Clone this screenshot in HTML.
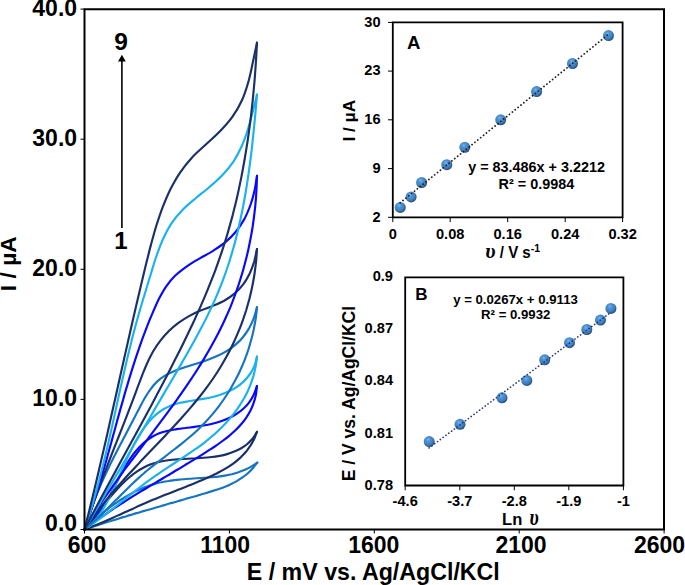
<!DOCTYPE html>
<html lang="en"><head><meta charset="utf-8"><title>Cyclic voltammograms</title>
<style>
html,body{margin:0;padding:0;background:#fff;}
body{width:685px;height:585px;overflow:hidden;}
svg{display:block;}
text{font-family:"Liberation Sans",Arial,Helvetica,sans-serif;font-weight:bold;fill:#000;}
.ser{font-family:"Liberation Serif","DejaVu Serif",serif;font-style:italic;font-weight:bold;}
.sern{font-weight:normal;}
</style></head><body>
<svg width="685" height="585" viewBox="0 0 685 585">
<defs>
<radialGradient id="sph" cx="42%" cy="40%" r="64%" fx="40%" fy="30%">
<stop offset="0" stop-color="#74b6ee"/><stop offset="0.3" stop-color="#5092d2"/><stop offset="0.65" stop-color="#4180bf"/><stop offset="0.85" stop-color="#2f6096"/><stop offset="1" stop-color="#1d3b5d"/>
</radialGradient>
</defs>
<rect width="685" height="585" fill="#fff"/>
<g fill="none" stroke-width="2.15" stroke-linejoin="round" stroke-linecap="round">
<path stroke="#1674c0" d="M84.5 529.5C85.4 528.7 87.9 526.2 89.7 524.6C91.4 523.0 93.2 521.3 94.9 519.8C96.7 518.2 98.5 516.6 100.3 515.1C102.2 513.5 104.0 512.0 105.9 510.5C107.7 509.0 109.6 507.6 111.5 506.2C113.4 504.8 115.4 503.4 117.3 502.1C119.2 500.7 121.2 499.5 123.2 498.2C125.2 497.0 127.2 495.8 129.3 494.7C131.3 493.5 133.4 492.4 135.4 491.4C137.5 490.4 139.6 489.4 141.8 488.5C143.9 487.6 146.0 486.8 148.2 486.0C150.4 485.2 152.6 484.5 154.8 483.9C157.0 483.3 159.3 482.7 161.6 482.3C163.8 481.8 166.1 481.3 168.4 481.0C170.7 480.6 173.1 480.3 175.4 480.0C177.7 479.7 180.1 479.5 182.4 479.2C184.8 479.0 187.1 478.9 189.5 478.7C191.9 478.5 194.3 478.4 196.6 478.2C199.0 478.1 201.4 478.0 203.8 477.8C206.2 477.6 208.5 477.5 210.9 477.3C213.2 477.1 215.6 476.8 217.9 476.6C220.3 476.3 222.6 476.0 224.9 475.6C227.2 475.2 229.5 474.7 231.7 474.2C234.0 473.6 236.2 473.0 238.4 472.3C240.6 471.5 242.8 470.7 244.9 469.8C247.1 468.8 249.2 467.8 251.2 466.6C253.3 465.4 256.3 463.3 257.3 462.6"/>
<path stroke="#1674c0" d="M257.3 462.6C256.6 463.5 254.4 466.5 252.8 468.3C251.3 470.1 249.6 471.7 247.9 473.2C246.2 474.7 244.4 476.1 242.5 477.4C240.6 478.7 238.7 479.9 236.8 481.1C234.8 482.2 232.8 483.2 230.7 484.2C228.7 485.2 226.6 486.1 224.4 486.9C222.3 487.8 220.1 488.5 218.0 489.3C215.8 490.0 213.6 490.7 211.3 491.4C209.1 492.1 206.9 492.8 204.6 493.5C202.4 494.1 200.2 494.8 197.9 495.4C195.7 496.1 193.4 496.7 191.2 497.3C189.0 498.0 186.7 498.6 184.5 499.3C182.2 499.9 180.0 500.6 177.8 501.2C175.5 501.9 173.3 502.5 171.0 503.1C168.8 503.8 166.6 504.4 164.3 505.1C162.1 505.7 159.9 506.4 157.6 507.0C155.4 507.7 153.2 508.3 150.9 509.0C148.7 509.6 146.5 510.3 144.3 510.9C142.0 511.6 139.8 512.2 137.6 512.9C135.3 513.5 133.1 514.2 130.9 514.9C128.7 515.5 126.5 516.2 124.2 516.9C122.0 517.5 119.8 518.2 117.6 518.9C115.4 519.6 113.2 520.3 110.9 521.0C108.7 521.6 106.5 522.3 104.3 523.0C102.1 523.7 99.9 524.4 97.7 525.2C95.5 525.9 93.3 526.6 91.1 527.3C88.9 528.0 85.6 529.1 84.5 529.5"/>
<path stroke="#1a3068" d="M84.5 529.5C85.2 528.6 87.5 525.9 89.0 524.0C90.5 522.1 92.0 520.2 93.6 518.2C95.1 516.2 96.7 514.1 98.3 512.0C99.9 510.0 101.5 507.9 103.2 505.8C104.9 503.7 106.5 501.5 108.3 499.4C110.0 497.3 111.7 495.3 113.5 493.2C115.3 491.2 117.1 489.2 119.0 487.2C120.8 485.3 122.7 483.4 124.7 481.5C126.6 479.7 128.6 478.0 130.6 476.3C132.6 474.7 134.7 473.1 136.8 471.7C139.0 470.2 141.1 468.9 143.4 467.7C145.6 466.6 147.9 465.5 150.2 464.6C152.5 463.7 154.9 463.0 157.4 462.3C159.8 461.7 162.3 461.2 164.8 460.8C167.3 460.3 169.8 460.0 172.4 459.7C175.0 459.5 177.6 459.3 180.2 459.1C182.8 458.9 185.5 458.8 188.1 458.7C190.8 458.5 193.4 458.4 196.1 458.3C198.7 458.1 201.4 458.0 204.0 457.8C206.7 457.6 209.3 457.3 211.9 457.0C214.5 456.7 217.1 456.3 219.6 455.9C222.1 455.4 224.7 454.8 227.1 454.1C229.6 453.4 232.0 452.6 234.3 451.6C236.7 450.7 239.0 449.6 241.2 448.3C243.3 447.0 245.4 445.6 247.3 444.0C249.3 442.3 251.1 440.5 252.7 438.5C254.3 436.5 256.3 432.9 257.0 431.8"/>
<path stroke="#1a3068" d="M257.0 431.8C256.5 433.0 255.2 436.9 254.1 439.2C252.9 441.5 251.7 443.7 250.3 445.8C249.0 447.9 247.5 449.9 246.0 451.8C244.4 453.6 242.7 455.4 241.0 457.1C239.2 458.7 237.4 460.3 235.5 461.8C233.6 463.3 231.6 464.7 229.5 466.1C227.5 467.4 225.4 468.7 223.2 469.9C221.0 471.2 218.8 472.3 216.6 473.5C214.3 474.6 212.1 475.7 209.8 476.7C207.5 477.8 205.1 478.8 202.8 479.8C200.5 480.8 198.1 481.8 195.8 482.7C193.4 483.7 191.1 484.7 188.7 485.6C186.4 486.5 184.0 487.5 181.6 488.4C179.3 489.3 176.9 490.3 174.6 491.2C172.2 492.1 169.9 493.0 167.5 494.0C165.2 494.9 162.8 495.8 160.5 496.8C158.1 497.7 155.8 498.7 153.5 499.6C151.2 500.6 148.9 501.6 146.6 502.6C144.3 503.6 142.0 504.6 139.7 505.6C137.4 506.6 135.1 507.7 132.9 508.7C130.6 509.7 128.3 510.8 126.0 511.8C123.8 512.9 121.5 513.9 119.2 514.9C117.0 516.0 114.7 517.0 112.4 518.0C110.1 519.1 107.9 520.1 105.6 521.1C103.3 522.1 101.0 523.1 98.6 524.0C96.3 525.0 94.0 525.9 91.6 526.8C89.3 527.7 85.7 529.1 84.5 529.5"/>
<path stroke="#0808ff" d="M84.5 529.5C85.5 528.6 88.8 525.9 90.7 523.9C92.7 521.8 94.6 519.6 96.3 517.3C98.1 515.0 99.8 512.6 101.4 510.1C103.1 507.6 104.6 505.0 106.1 502.3C107.6 499.7 109.1 496.9 110.6 494.2C112.0 491.5 113.4 488.7 114.9 485.9C116.3 483.1 117.7 480.3 119.2 477.5C120.6 474.8 122.1 472.0 123.6 469.3C125.1 466.7 126.7 464.0 128.3 461.5C129.9 459.0 131.6 456.5 133.4 454.1C135.2 451.8 137.0 449.5 139.0 447.4C141.0 445.4 143.1 443.4 145.3 441.6C147.5 439.8 149.8 438.2 152.2 436.8C154.6 435.4 157.2 434.2 159.8 433.1C162.4 432.1 165.2 431.4 168.0 430.7C170.8 430.0 173.7 429.6 176.6 429.1C179.5 428.7 182.5 428.3 185.4 428.0C188.4 427.6 191.5 427.3 194.5 426.9C197.5 426.5 200.5 426.0 203.5 425.5C206.5 425.0 209.5 424.4 212.4 423.7C215.3 423.0 218.2 422.2 221.0 421.2C223.8 420.3 226.5 419.2 229.1 418.0C231.7 416.8 234.2 415.5 236.6 413.9C238.9 412.4 241.2 410.7 243.3 408.8C245.3 407.0 247.3 404.9 249.0 402.6C250.7 400.3 252.3 397.8 253.6 395.0C255.0 392.2 256.4 387.5 257.0 386.0"/>
<path stroke="#0808ff" d="M257.0 386.0C256.8 387.5 256.4 392.3 255.8 395.2C255.2 398.1 254.4 400.9 253.4 403.6C252.5 406.3 251.3 408.9 250.1 411.3C248.8 413.8 247.3 416.1 245.8 418.3C244.2 420.6 242.5 422.7 240.7 424.8C238.9 426.9 236.9 428.9 234.9 430.8C232.9 432.7 230.8 434.5 228.6 436.3C226.4 438.1 224.1 439.8 221.8 441.5C219.5 443.2 217.2 444.9 214.8 446.5C212.4 448.1 209.9 449.6 207.5 451.2C205.1 452.8 202.6 454.3 200.2 455.8C197.7 457.3 195.3 458.9 192.8 460.4C190.4 461.9 187.9 463.4 185.4 464.8C183.0 466.3 180.5 467.8 178.1 469.3C175.6 470.7 173.2 472.2 170.7 473.7C168.2 475.1 165.8 476.6 163.3 478.0C160.9 479.5 158.4 480.9 156.0 482.4C153.5 483.9 151.1 485.3 148.6 486.8C146.2 488.3 143.7 489.7 141.3 491.2C138.9 492.7 136.5 494.2 134.0 495.7C131.6 497.2 129.2 498.7 126.8 500.2C124.4 501.7 122.0 503.3 119.6 504.8C117.2 506.4 114.8 507.9 112.4 509.5C110.1 511.1 107.7 512.7 105.4 514.3C103.0 515.9 100.7 517.6 98.3 519.2C96.0 520.9 93.7 522.6 91.4 524.3C89.1 526.0 85.6 528.6 84.5 529.5"/>
<path stroke="#1ab2ee" d="M84.5 529.5C85.6 528.7 88.8 526.5 90.8 524.6C92.8 522.8 94.7 520.7 96.5 518.5C98.3 516.3 100.0 513.8 101.7 511.3C103.4 508.7 104.9 506.0 106.5 503.2C108.1 500.4 109.5 497.4 111.0 494.4C112.5 491.4 113.9 488.2 115.3 485.1C116.8 481.9 118.2 478.7 119.6 475.5C121.0 472.2 122.4 468.9 123.8 465.7C125.3 462.4 126.7 459.2 128.2 456.0C129.7 452.8 131.3 449.6 132.9 446.5C134.4 443.4 136.1 440.4 137.8 437.5C139.5 434.6 141.3 431.8 143.2 429.1C145.1 426.4 147.0 423.9 149.1 421.5C151.2 419.1 153.4 416.9 155.7 414.9C158.0 412.9 160.4 411.1 163.0 409.5C165.6 407.9 168.3 406.6 171.2 405.5C174.1 404.4 177.1 403.5 180.2 402.8C183.3 402.1 186.6 401.6 189.8 401.0C193.1 400.5 196.4 400.0 199.7 399.5C202.9 398.9 206.2 398.4 209.5 397.7C212.7 397.0 215.9 396.2 218.9 395.2C222.0 394.2 225.0 393.1 227.9 391.8C230.8 390.5 233.6 389.1 236.2 387.4C238.8 385.7 241.3 383.7 243.5 381.6C245.8 379.4 247.9 377.0 249.7 374.5C251.5 371.9 253.1 369.1 254.3 366.1C255.5 363.1 256.6 358.1 257.0 356.5"/>
<path stroke="#1ab2ee" d="M257.0 356.5C256.8 358.1 256.3 363.0 255.7 366.1C255.1 369.3 254.4 372.4 253.6 375.4C252.7 378.4 251.7 381.4 250.6 384.3C249.5 387.1 248.3 390.0 247.0 392.7C245.6 395.5 244.2 398.2 242.6 400.8C241.0 403.5 239.4 406.0 237.6 408.5C235.9 411.1 234.0 413.5 232.1 415.9C230.1 418.3 228.1 420.6 226.0 422.9C223.9 425.2 221.7 427.4 219.5 429.5C217.3 431.7 215.0 433.8 212.6 435.8C210.3 437.9 207.9 439.8 205.4 441.8C203.0 443.7 200.5 445.6 198.0 447.4C195.4 449.2 192.9 451.0 190.3 452.7C187.7 454.5 185.1 456.2 182.5 457.9C179.9 459.6 177.2 461.3 174.6 463.0C172.0 464.7 169.4 466.4 166.8 468.1C164.2 469.8 161.6 471.5 159.0 473.3C156.4 475.1 153.9 476.9 151.4 478.7C148.9 480.5 146.4 482.4 143.9 484.2C141.4 486.1 139.0 488.0 136.5 489.9C134.1 491.8 131.6 493.8 129.2 495.7C126.8 497.6 124.3 499.6 121.9 501.5C119.5 503.5 117.1 505.4 114.6 507.3C112.2 509.2 109.7 511.2 107.3 513.1C104.8 515.0 102.3 516.8 99.8 518.7C97.3 520.6 94.8 522.4 92.2 524.2C89.7 526.0 85.8 528.6 84.5 529.5"/>
<path stroke="#1674c0" d="M84.5 529.5C85.1 527.6 86.7 521.9 87.9 518.3C89.1 514.6 90.4 511.0 91.7 507.5C92.9 503.9 94.3 500.5 95.6 497.1C97.0 493.6 98.4 490.3 99.8 487.0C101.2 483.6 102.7 480.3 104.2 477.1C105.7 473.8 107.2 470.6 108.8 467.4C110.3 464.2 111.9 461.0 113.5 457.8C115.1 454.7 116.8 451.5 118.4 448.3C120.1 445.1 121.7 441.9 123.4 438.7C125.1 435.5 126.8 432.3 128.5 429.1C130.2 425.9 131.9 422.6 133.6 419.3C135.3 416.0 137.0 412.6 138.8 409.3C140.5 405.9 142.2 402.5 144.1 399.2C146.0 396.0 147.9 392.7 150.1 389.8C152.2 386.8 154.5 384.0 157.1 381.6C159.6 379.2 162.4 377.2 165.4 375.4C168.4 373.6 171.7 372.1 175.1 370.7C178.4 369.4 181.9 368.3 185.4 367.1C188.9 365.9 192.6 364.9 196.1 363.8C199.7 362.7 203.3 361.5 206.7 360.2C210.2 359.0 213.7 357.6 217.0 356.1C220.3 354.6 223.5 353.0 226.6 351.1C229.6 349.2 232.6 347.2 235.3 344.9C238.0 342.6 240.6 340.0 242.9 337.2C245.2 334.4 247.3 331.3 249.2 328.1C251.0 324.8 252.6 321.3 253.9 317.9C255.2 314.4 256.5 309.0 257.0 307.2"/>
<path stroke="#1674c0" d="M257.0 307.2C256.8 309.0 256.3 314.4 255.8 318.0C255.2 321.6 254.6 325.1 253.9 328.6C253.2 332.2 252.4 335.7 251.4 339.1C250.5 342.6 249.5 346.1 248.4 349.5C247.3 352.9 246.1 356.3 244.8 359.6C243.5 362.9 242.1 366.2 240.6 369.5C239.2 372.8 237.6 376.0 235.9 379.1C234.3 382.3 232.5 385.4 230.7 388.5C228.9 391.6 227.0 394.6 225.0 397.5C223.0 400.5 220.9 403.4 218.8 406.3C216.6 409.1 214.4 411.9 212.1 414.6C209.8 417.3 207.4 420.0 205.0 422.6C202.5 425.2 200.0 427.7 197.4 430.2C194.8 432.6 192.1 435.0 189.4 437.3C186.7 439.6 183.9 441.9 181.1 444.1C178.3 446.4 175.5 448.5 172.6 450.7C169.8 452.9 166.9 455.1 164.1 457.3C161.2 459.4 158.3 461.6 155.5 463.8C152.7 466.0 149.9 468.3 147.1 470.5C144.4 472.8 141.7 475.2 139.0 477.6C136.3 480.0 133.7 482.4 131.1 484.9C128.6 487.4 126.0 489.9 123.5 492.4C120.9 495.0 118.4 497.5 115.9 500.1C113.4 502.6 110.9 505.2 108.3 507.7C105.8 510.2 103.2 512.8 100.6 515.2C98.0 517.7 95.4 520.2 92.7 522.5C90.0 524.9 85.9 528.3 84.5 529.5"/>
<path stroke="#1a3068" d="M84.5 529.5C85.2 527.4 87.2 521.1 88.6 516.9C90.0 512.8 91.5 508.7 92.9 504.6C94.3 500.5 95.8 496.5 97.2 492.5C98.7 488.5 100.1 484.6 101.6 480.6C103.1 476.7 104.6 472.8 106.1 468.9C107.6 465.0 109.1 461.1 110.6 457.2C112.1 453.4 113.6 449.5 115.1 445.6C116.6 441.8 118.2 437.9 119.7 434.0C121.2 430.1 122.7 426.3 124.3 422.3C125.8 418.4 127.3 414.5 128.8 410.6C130.4 406.6 131.9 402.6 133.4 398.6C134.9 394.6 136.4 390.5 137.9 386.5C139.5 382.4 141.0 378.3 142.6 374.2C144.2 370.2 145.8 366.1 147.6 362.2C149.5 358.3 151.4 354.4 153.5 350.8C155.7 347.1 158.0 343.6 160.6 340.3C163.2 337.0 166.0 333.9 168.9 331.0C171.9 328.1 175.1 325.4 178.4 322.9C181.8 320.5 185.3 318.2 189.0 316.1C192.7 314.1 196.6 312.3 200.5 310.6C204.4 308.9 208.6 307.6 212.6 305.9C216.5 304.3 220.5 302.7 224.2 300.7C227.8 298.6 231.3 296.3 234.5 293.6C237.6 291.0 240.5 288.0 243.0 284.7C245.6 281.4 247.7 277.6 249.6 273.8C251.4 269.9 252.9 265.7 254.2 261.6C255.4 257.4 256.5 251.1 257.0 249.0"/>
<path stroke="#1a3068" d="M257.0 249.0C256.8 251.1 256.5 257.4 256.1 261.5C255.6 265.7 255.1 269.9 254.5 274.0C253.9 278.1 253.1 282.2 252.3 286.3C251.5 290.4 250.5 294.5 249.5 298.5C248.4 302.5 247.3 306.5 246.1 310.5C244.8 314.5 243.5 318.4 242.1 322.3C240.7 326.2 239.1 330.1 237.5 333.9C235.9 337.7 234.2 341.5 232.4 345.2C230.6 349.0 228.7 352.6 226.7 356.3C224.7 359.9 222.7 363.5 220.5 367.0C218.4 370.6 216.1 374.1 213.8 377.5C211.5 380.9 209.1 384.3 206.6 387.6C204.1 391.0 201.6 394.2 199.0 397.5C196.4 400.7 193.7 403.9 191.0 407.1C188.3 410.3 185.6 413.4 182.8 416.5C180.1 419.6 177.2 422.7 174.4 425.8C171.6 428.9 168.7 431.9 165.9 434.9C163.0 438.0 160.1 441.0 157.3 444.0C154.4 447.0 151.5 450.1 148.6 453.1C145.8 456.1 142.9 459.1 140.0 462.1C137.2 465.2 134.3 468.2 131.5 471.3C128.7 474.3 125.8 477.4 123.1 480.5C120.3 483.6 117.5 486.7 114.8 489.8C112.1 493.0 109.4 496.2 106.8 499.4C104.2 502.6 101.6 505.8 99.0 509.1C96.5 512.4 94.0 515.8 91.6 519.2C89.2 522.6 85.7 527.8 84.5 529.5"/>
<path stroke="#0808ff" d="M84.5 529.5C85.3 527.1 87.9 520.1 89.5 515.3C91.1 510.5 92.7 505.8 94.2 501.0C95.8 496.2 97.2 491.4 98.7 486.6C100.1 481.8 101.5 477.0 102.9 472.1C104.3 467.3 105.7 462.5 107.1 457.6C108.4 452.8 109.7 447.9 111.1 443.1C112.4 438.2 113.7 433.4 115.1 428.5C116.4 423.6 117.7 418.8 119.1 413.9C120.4 409.1 121.8 404.2 123.2 399.4C124.5 394.5 125.9 389.7 127.4 384.9C128.8 380.1 130.3 375.2 131.8 370.4C133.3 365.6 134.8 360.8 136.4 356.1C138.0 351.3 139.6 346.5 141.3 341.8C143.0 337.0 144.8 332.3 146.6 327.6C148.4 322.9 150.3 318.2 152.3 313.6C154.3 308.9 156.3 304.2 158.5 299.7C160.8 295.3 163.1 290.8 165.9 286.8C168.7 282.8 171.8 279.0 175.3 275.6C178.8 272.2 182.8 269.2 186.9 266.3C191.0 263.4 195.4 261.0 199.8 258.4C204.2 255.8 208.8 253.5 213.1 250.8C217.3 248.0 221.6 245.3 225.4 242.1C229.2 238.9 232.7 235.5 235.8 231.7C239.0 227.9 241.7 223.7 244.2 219.4C246.6 215.0 248.6 210.2 250.3 205.5C252.0 200.7 253.4 195.6 254.5 190.7C255.6 185.7 256.6 178.3 257.0 175.8"/>
<path stroke="#0808ff" d="M257.0 175.8C256.9 178.3 256.7 185.8 256.4 190.8C256.2 195.8 255.8 200.8 255.3 205.7C254.8 210.7 254.2 215.6 253.5 220.5C252.9 225.5 252.1 230.4 251.2 235.3C250.3 240.1 249.3 245.0 248.3 249.8C247.2 254.7 246.0 259.5 244.7 264.2C243.5 269.0 242.1 273.8 240.6 278.5C239.2 283.2 237.6 287.8 235.9 292.5C234.3 297.1 232.5 301.7 230.7 306.3C228.8 310.8 226.8 315.4 224.8 319.8C222.8 324.3 220.6 328.7 218.4 333.1C216.1 337.5 213.8 341.8 211.4 346.1C209.0 350.4 206.5 354.7 204.0 358.9C201.4 363.2 198.8 367.3 196.1 371.5C193.4 375.7 190.7 379.8 187.9 383.9C185.1 388.0 182.3 392.1 179.4 396.2C176.5 400.2 173.6 404.3 170.6 408.3C167.7 412.3 164.7 416.4 161.7 420.4C158.8 424.4 155.7 428.4 152.7 432.3C149.7 436.3 146.7 440.3 143.7 444.3C140.7 448.3 137.7 452.3 134.7 456.3C131.7 460.2 128.7 464.2 125.7 468.2C122.8 472.2 119.8 476.2 116.9 480.3C114.0 484.3 111.2 488.3 108.4 492.4C105.5 496.4 102.8 500.5 100.0 504.6C97.3 508.7 94.7 512.8 92.1 517.0C89.5 521.1 85.8 527.4 84.5 529.5"/>
<path stroke="#1ab2ee" d="M84.5 529.5C85.4 526.7 88.2 518.3 90.0 512.6C91.7 507.0 93.4 501.3 95.0 495.6C96.6 489.9 98.2 484.2 99.6 478.5C101.1 472.8 102.6 467.0 104.0 461.3C105.4 455.5 106.7 449.8 108.1 444.0C109.4 438.3 110.7 432.5 112.0 426.7C113.3 420.9 114.5 415.2 115.8 409.4C117.1 403.6 118.3 397.8 119.6 392.1C120.9 386.3 122.2 380.5 123.5 374.8C124.8 369.0 126.1 363.2 127.5 357.5C128.9 351.8 130.3 346.0 131.7 340.3C133.2 334.6 134.6 328.9 136.2 323.2C137.8 317.5 139.4 311.9 141.0 306.2C142.7 300.6 144.5 295.0 146.2 289.3C147.9 283.6 149.6 277.9 151.4 272.2C153.1 266.5 154.8 260.6 156.8 255.0C158.8 249.4 160.8 243.8 163.3 238.5C165.7 233.2 168.4 228.0 171.6 223.2C174.9 218.4 178.6 214.0 182.7 209.8C186.7 205.6 191.4 201.9 196.0 198.0C200.5 194.2 205.4 190.6 209.8 186.7C214.3 182.8 218.8 179.0 222.7 174.7C226.7 170.5 230.4 166.1 233.6 161.3C236.8 156.4 239.5 151.2 241.9 145.8C244.3 140.4 246.2 134.7 248.0 129.0C249.8 123.3 251.3 117.3 252.8 111.6C254.3 105.9 256.3 97.4 257.0 94.6"/>
<path stroke="#1ab2ee" d="M257.0 94.6C256.7 97.5 256.0 106.2 255.5 112.1C255.0 117.9 254.4 123.7 253.8 129.6C253.2 135.4 252.6 141.3 252.0 147.1C251.3 153.0 250.6 158.8 249.8 164.6C249.0 170.5 248.2 176.3 247.3 182.1C246.4 187.9 245.5 193.7 244.4 199.5C243.4 205.3 242.3 211.0 241.0 216.8C239.8 222.5 238.5 228.2 237.1 233.9C235.7 239.5 234.2 245.2 232.6 250.8C231.0 256.4 229.3 262.0 227.4 267.5C225.6 273.0 223.6 278.5 221.5 283.9C219.4 289.3 217.2 294.7 214.8 300.1C212.4 305.4 209.9 310.7 207.4 315.9C204.8 321.2 202.1 326.4 199.3 331.6C196.6 336.8 193.8 341.9 190.9 347.1C188.0 352.2 185.1 357.3 182.1 362.4C179.2 367.5 176.2 372.6 173.2 377.7C170.3 382.8 167.3 387.8 164.3 392.9C161.4 398.0 158.4 403.0 155.4 408.1C152.5 413.2 149.5 418.2 146.6 423.3C143.6 428.3 140.7 433.4 137.7 438.4C134.8 443.5 131.9 448.5 128.9 453.6C126.0 458.7 123.0 463.7 120.1 468.8C117.1 473.8 114.2 478.9 111.2 483.9C108.3 489.0 105.3 494.0 102.4 499.1C99.4 504.2 96.4 509.2 93.4 514.3C90.5 519.4 86.0 527.0 84.5 529.5"/>
<path stroke="#1a3068" d="M84.5 529.5C85.3 526.3 87.7 516.8 89.3 510.5C90.8 504.1 92.4 497.8 93.9 491.5C95.4 485.1 96.9 478.8 98.4 472.5C99.9 466.1 101.4 459.8 102.8 453.5C104.3 447.2 105.7 440.9 107.2 434.5C108.6 428.2 110.0 421.9 111.4 415.6C112.9 409.2 114.3 402.9 115.7 396.6C117.1 390.3 118.5 384.0 119.9 377.6C121.3 371.3 122.7 365.0 124.1 358.7C125.6 352.4 127.0 346.0 128.4 339.7C129.8 333.4 131.3 327.0 132.7 320.7C134.2 314.4 135.6 308.0 137.1 301.7C138.6 295.4 140.1 289.0 141.6 282.7C143.1 276.3 144.6 270.0 146.2 263.6C147.8 257.3 149.3 250.9 151.0 244.6C152.7 238.3 154.4 231.9 156.3 225.7C158.3 219.5 160.3 213.3 162.6 207.3C165.0 201.3 167.5 195.3 170.3 189.5C173.2 183.8 176.3 178.1 179.9 172.8C183.5 167.4 187.5 162.4 191.9 157.7C196.2 152.9 201.3 148.8 206.1 144.3C210.8 139.9 215.8 135.6 220.2 131.0C224.7 126.3 229.0 121.5 232.7 116.3C236.4 111.1 239.6 105.5 242.2 99.7C244.9 93.8 246.8 87.4 248.6 81.0C250.4 74.7 251.6 68.0 253.0 61.6C254.4 55.2 256.3 45.9 257.0 42.7"/>
<path stroke="#1a3068" d="M257.0 42.7C256.8 45.9 256.3 55.6 255.9 62.0C255.5 68.5 255.0 74.9 254.5 81.3C253.9 87.8 253.3 94.2 252.7 100.7C252.0 107.1 251.3 113.5 250.5 119.9C249.7 126.4 248.8 132.8 247.9 139.2C246.9 145.6 245.9 152.0 244.8 158.3C243.7 164.7 242.6 171.0 241.3 177.4C240.0 183.7 238.7 190.0 237.3 196.3C235.8 202.6 234.3 208.8 232.7 215.1C231.0 221.3 229.3 227.5 227.5 233.7C225.6 239.9 223.7 246.0 221.7 252.1C219.6 258.2 217.5 264.3 215.3 270.3C213.0 276.3 210.6 282.3 208.2 288.3C205.8 294.3 203.3 300.2 200.7 306.1C198.1 312.0 195.4 317.9 192.7 323.8C189.9 329.6 187.1 335.4 184.3 341.2C181.5 347.1 178.6 352.8 175.6 358.6C172.7 364.4 169.8 370.1 166.8 375.9C163.8 381.6 160.8 387.4 157.8 393.1C154.8 398.8 151.7 404.5 148.7 410.2C145.6 415.9 142.5 421.6 139.5 427.2C136.4 432.9 133.3 438.6 130.2 444.3C127.1 449.9 124.0 455.6 120.9 461.3C117.9 466.9 114.8 472.6 111.7 478.3C108.6 484.0 105.6 489.6 102.5 495.3C99.5 501.0 96.4 506.7 93.4 512.4C90.4 518.1 86.0 526.6 84.5 529.5"/>
</g>
<g stroke="#000" fill="none">
<path stroke-width="2" d="M84.5 9.2H664.0V529.5H84.5Z"/>
<path stroke-width="1" d="M84.5 529.5h-4M84.5 399.4h-4M84.5 269.3h-4M84.5 139.2h-4M84.5 9.1h-4M84.5 529.5v4M229.4 529.5v4M374.3 529.5v4M519.2 529.5v4M664.1 529.5v4"/>
</g>
<g font-size="23" text-anchor="end">
<text x="77.1" y="531.2">0.0</text>
<text x="77.1" y="406.4">10.0</text>
<text x="77.1" y="276.3">20.0</text>
<text x="77.1" y="146.2">30.0</text>
<text x="77.1" y="16.1">40.0</text>
</g>
<g font-size="23" text-anchor="middle">
<text x="87.0" y="552.7">600</text>
<text x="225.2" y="552.7">1100</text>
<text x="373.8" y="552.7">1600</text>
<text x="521.0" y="552.7">2100</text>
<text x="659.5" y="552.7">2600</text>
</g>
<text font-size="23.2" text-anchor="middle" x="373.3" y="580">E / mV vs. Ag/AgCl/KCl</text>
<text font-size="22.8" text-anchor="middle" transform="translate(16.1 263.7) rotate(-90)">I / µA</text>
<text font-size="24.5" text-anchor="middle" x="121" y="50.2">9</text>
<text font-size="24" text-anchor="middle" x="121" y="249">1</text>
<path d="M121.9 228V60" stroke="#000" stroke-width="1.6" fill="none"/>
<path d="M121.9 54.8l3.9 6.6h-7.8z" fill="#000"/>
<g stroke="#000" fill="none">
<path stroke-width="1.8" d="M392.8 22.4H622.6V217.3H392.8Z"/>
<path stroke-width="1" d="M392.8 22.4h-4.8M392.8 217.3v4.8M392.8 71.1h-4.8M450.2 217.3v4.8M392.8 119.8h-4.8M507.7 217.3v4.8M392.8 168.6h-4.8M565.2 217.3v4.8M392.8 217.3h-4.8M622.6 217.3v4.8"/>
</g>
<g font-size="14.6" text-anchor="end">
<text x="380.6" y="26.6">30</text>
<text x="380.6" y="75.3">23</text>
<text x="380.6" y="124.0">16</text>
<text x="380.6" y="172.8">9</text>
<text x="380.6" y="221.5">2</text>
</g>
<g font-size="14.6" text-anchor="middle">
<text x="392.8" y="238.8">0</text>
<text x="450.2" y="238.8">0.08</text>
<text x="507.7" y="238.8">0.16</text>
<text x="565.2" y="238.8">0.24</text>
<text x="622.6" y="238.8">0.32</text>
</g>
<text font-size="18.6" x="407" y="49.3">A</text>
<text font-size="17.3" text-anchor="middle" transform="translate(355.2 120.7) rotate(-90)">I / µA</text>
<text font-size="15.8" x="485.3" y="258" textLength="54.8" lengthAdjust="spacingAndGlyphs"><tspan class="ser" font-size="22">υ</tspan> / V s<tspan font-size="11" dy="-6.5">-1</tspan></text>
<text font-size="14.4" text-anchor="middle" x="536.6" y="172.2">y = 83.486x + 3.2212</text>
<text font-size="14.4" text-anchor="middle" x="536.4" y="189.2">R² = 0.9984</text>
<circle cx="400.2" cy="207.4" r="5.5" fill="url(#sph)"/>
<circle cx="411.1" cy="196.9" r="5.5" fill="url(#sph)"/>
<circle cx="421.6" cy="182.5" r="5.5" fill="url(#sph)"/>
<circle cx="446.8" cy="164.7" r="5.5" fill="url(#sph)"/>
<circle cx="464.8" cy="147.3" r="5.5" fill="url(#sph)"/>
<circle cx="500.7" cy="119.8" r="5.5" fill="url(#sph)"/>
<circle cx="536.6" cy="91.6" r="5.5" fill="url(#sph)"/>
<circle cx="572.5" cy="63.5" r="5.5" fill="url(#sph)"/>
<circle cx="608.5" cy="35.6" r="5.5" fill="url(#sph)"/>
<path d="M400.1 202.8L608.5 34.3" stroke="#1c1c1c" stroke-width="1.75" stroke-dasharray="0.1 3.6" stroke-linecap="round" fill="none"/>
<g stroke="#000" fill="none">
<path stroke-width="1.8" d="M405.2 277.4H623.4V485.5H405.2Z"/>
<path stroke-width="1" d="M405.2 485.5v4.8M459.8 485.5v4.8M514.3 485.5v4.8M568.8 485.5v4.8M623.4 485.5v4.8"/>
</g>
<g font-size="14.6" text-anchor="end">
<text x="393" y="281.4">0.9</text>
<text x="393" y="333.4">0.87</text>
<text x="393" y="385.4">0.84</text>
<text x="393" y="437.5">0.81</text>
<text x="393" y="489.5">0.78</text>
</g>
<g font-size="14.6" text-anchor="middle">
<text x="405.2" y="506.1">-4.6</text>
<text x="459.8" y="506.1">-3.7</text>
<text x="514.3" y="506.1">-2.8</text>
<text x="568.8" y="506.1">-1.9</text>
<text x="623.4" y="506.1">-1</text>
</g>
<text font-size="17" x="415.3" y="299.7">B</text>
<text font-size="17.5" text-anchor="middle" transform="translate(354.6 393.6) rotate(-90)">E / V vs. Ag/AgCl/KCl</text>
<text font-size="16.6" x="502" y="524.7">Ln</text>
<text class="ser" font-size="22.5" transform="translate(529.4 524.7) scale(0.84 1)">υ</text>
<text font-size="13.2" text-anchor="middle" x="515.5" y="303.6">y = 0.0267x + 0.9113</text>
<text font-size="13.2" text-anchor="middle" x="515.7" y="318.9">R² = 0.9932</text>
<circle cx="429.2" cy="441.6" r="5.5" fill="url(#sph)"/>
<circle cx="460.0" cy="424.3" r="5.5" fill="url(#sph)"/>
<circle cx="502.0" cy="397.8" r="5.5" fill="url(#sph)"/>
<circle cx="526.8" cy="380.4" r="5.5" fill="url(#sph)"/>
<circle cx="544.7" cy="359.8" r="5.5" fill="url(#sph)"/>
<circle cx="569.5" cy="342.7" r="5.5" fill="url(#sph)"/>
<circle cx="586.8" cy="329.5" r="5.5" fill="url(#sph)"/>
<circle cx="600.5" cy="320.1" r="5.5" fill="url(#sph)"/>
<circle cx="610.9" cy="308.4" r="5.5" fill="url(#sph)"/>
<path d="M429.1 447.9L611 312.2" stroke="#24347a" stroke-width="1.65" stroke-dasharray="0.1 3.4" stroke-linecap="round" fill="none"/>
</svg>
</body></html>
